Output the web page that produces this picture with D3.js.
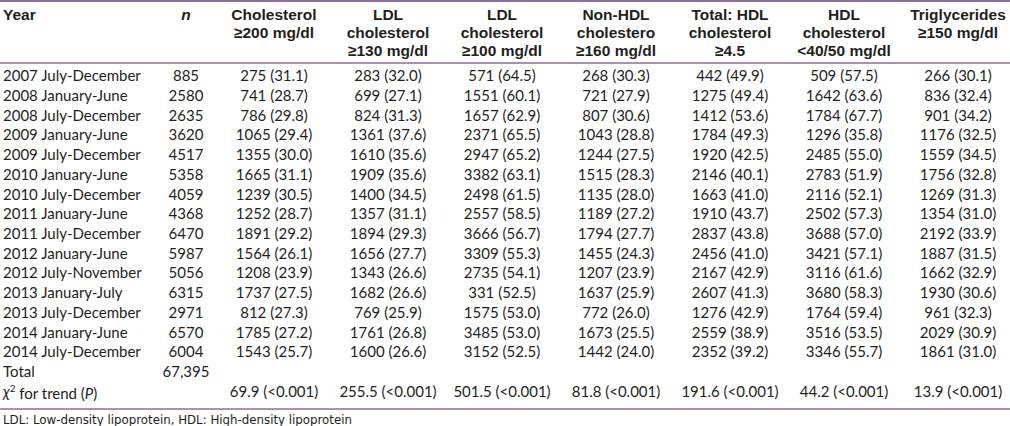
<!DOCTYPE html>
<html><head><meta charset="utf-8">
<script src="https://cdn.jsdelivr.net/npm/d3@7"></script>
<style>
html,body{margin:0;padding:0;background:#fff;}
svg{display:block;}
.body{font-family:Lato,"Noto Sans",sans-serif;font-size:15px;fill:#231f20;}
.head{font-family:"Liberation Sans",Arial,sans-serif;font-weight:bold;font-size:15.5px;fill:#231f20;}
.foot{font-family:"DejaVu Sans",sans-serif;font-size:11.8px;fill:#231f20;}
</style></head>
<body><svg id="c" width="1010" height="426"></svg>
<script>
const periods = ["2007 July-December","2008 January-June","2008 July-December","2009 January-June","2009 July-December","2010 January-June","2010 July-December","2011 January-June","2011 July-December","2012 January-June","2012 July-November","2013 January-July","2013 July-December","2014 January-June","2014 July-December"];
const nValues = [885,2580,2635,3620,4517,5358,4059,4368,6470,5987,5056,6315,2971,6570,6004];
const nTotal = "67,395";
const columnHeaders = [
  ["Cholesterol","\u2265200 mg/dl"],
  ["LDL","cholesterol","\u2265130 mg/dl"],
  ["LDL","cholesterol","\u2265100 mg/dl"],
  ["Non-HDL","cholestero","\u2265160 mg/dl"],
  ["Total: HDL","cholesterol","\u22654.5"],
  ["HDL","cholesterol","<40/50 mg/dl"],
  ["Triglycerides","\u2265150 mg/dl"]
];
const cholCount = [275,741,786,1065,1355,1665,1239,1252,1891,1564,1208,1737,812,1785,1543];
const cholPct = [31.1,28.7,29.8,29.4,30.0,31.1,30.5,28.7,29.2,26.1,23.9,27.5,27.3,27.2,25.7];
const ldl130Count = [283,699,824,1361,1610,1909,1400,1357,1894,1656,1343,1682,769,1761,1600];
const ldl130Pct = [32.0,27.1,31.3,37.6,35.6,35.6,34.5,31.1,29.3,27.7,26.6,26.6,25.9,26.8,26.6];
const ldl100Count = [571,1551,1657,2371,2947,3382,2498,2557,3666,3309,2735,331,1575,3485,3152];
const ldl100Pct = [64.5,60.1,62.9,65.5,65.2,63.1,61.5,58.5,56.7,55.3,54.1,52.5,53.0,53.0,52.5];
const nonHdlCount = [268,721,807,1043,1244,1515,1135,1189,1794,1455,1207,1637,772,1673,1442];
const nonHdlPct = [30.3,27.9,30.6,28.8,27.5,28.3,28.0,27.2,27.7,24.3,23.9,25.9,26.0,25.5,24.0];
const ratioCount = [442,1275,1412,1784,1920,2146,1663,1910,2837,2456,2167,2607,1276,2559,2352];
const ratioPct = [49.9,49.4,53.6,49.3,42.5,40.1,41.0,43.7,43.8,41.0,42.9,41.3,42.9,38.9,39.2];
const hdlCount = [509,1642,1784,1296,2485,2783,2116,2502,3688,3421,3116,3680,1764,3516,3346];
const hdlPct = [57.5,63.6,67.7,35.8,55.0,51.9,52.1,57.3,57.0,57.1,61.6,58.3,59.4,53.5,55.7];
const trigCount = [266,836,901,1176,1559,1756,1269,1354,2192,1887,1662,1930,961,2029,1861];
const trigPct = [30.1,32.4,34.2,32.5,34.5,32.8,31.3,31.0,33.9,31.5,32.9,30.6,32.3,30.9,31.0];
const chiSquare = [69.9,255.5,501.5,81.8,191.6,44.2,13.9];
const footnote = "LDL: Low-density lipoprotein, HDL: High-density lipoprotein";

const counts = [cholCount,ldl130Count,ldl100Count,nonHdlCount,ratioCount,hdlCount,trigCount];
const pcts = [cholPct,ldl130Pct,ldl100Pct,nonHdlPct,ratioPct,hdlPct,trigPct];

const svg = d3.select("#c");
const lineColor = "#8d6f9c";
const rowKeys = periods.concat(["Total","chi"]);
const y = d3.scalePoint().domain(rowKeys).range([76, 391.5]);
const colKeys = d3.range(columnHeaders.length);
const x = d3.scalePoint().domain(colKeys).range([274, 958]);
const xN = 186, xYear = 3;
const f1 = d3.format(".1f");

// lines
svg.append("line").attr("x1",0).attr("x2",1010).attr("y1",1).attr("y2",1).attr("stroke",lineColor).attr("stroke-width",2);
svg.append("line").attr("x1",0).attr("x2",1010).attr("y1",63).attr("y2",63).attr("stroke",lineColor).attr("stroke-width",1.3);
svg.append("line").attr("x1",0).attr("x2",1010).attr("y1",409).attr("y2",409).attr("stroke",lineColor).attr("stroke-width",1.3);

// header
const hy = d3.scaleLinear().domain([0,1]).range([15,33]);
svg.append("text").attr("class","head").attr("x",xYear).attr("y",hy(0)).attr("dy","0.35em").text("Year");
svg.append("text").attr("class","head").attr("x",xN).attr("y",hy(0)).attr("dy","0.35em").attr("text-anchor","middle").attr("font-style","italic").text("n");
colKeys.forEach(c=>{
  svg.append("g").selectAll("text").data(columnHeaders[c]).join("text")
    .attr("class","head").attr("text-anchor","middle")
    .attr("x",x(c)).attr("y",(d,i)=>hy(i)).attr("dy","0.35em").text(d=>d);
});

// body rows
const body = svg.append("g");
periods.forEach((p,i)=>{
  body.append("text").attr("class","body").attr("x",xYear).attr("y",y(p)).attr("dy","0.35em").text(p);
  body.append("text").attr("class","body").attr("x",xN).attr("y",y(p)).attr("dy","0.35em").attr("text-anchor","middle").text(nValues[i]);
  colKeys.forEach(c=>{
    body.append("text").attr("class","body").attr("x",x(c)).attr("y",y(p)).attr("dy","0.35em").attr("text-anchor","middle")
      .text(counts[c][i]+" ("+f1(pcts[c][i])+")");
  });
});
body.append("text").attr("class","body").attr("x",xYear).attr("y",y("Total")).attr("dy","0.35em").text("Total");
body.append("text").attr("class","body").attr("x",xN).attr("y",y("Total")).attr("dy","0.35em").attr("text-anchor","middle").text(nTotal);
const chiT = body.append("text").attr("class","body").attr("x",xYear).attr("y",y("chi")).attr("dy","0.35em");
chiT.append("tspan").attr("font-style","italic").text("\u03C7");
chiT.append("tspan").attr("font-size","10px").attr("dy","-0.45em").text("2");
chiT.append("tspan").attr("dy","0.45em").text(" for trend (");
chiT.append("tspan").attr("font-style","italic").text("P");
chiT.append("tspan").text(")");
colKeys.forEach(c=>{
  body.append("text").attr("class","body").attr("x",x(c)).attr("y",y("chi")).attr("dy","0.35em").attr("text-anchor","middle")
    .text(f1(chiSquare[c])+" (<0.001)");
});

svg.append("text").attr("class","foot").attr("x",xYear).attr("y",420).attr("dy","0.35em").text(footnote);
</script></body></html>
